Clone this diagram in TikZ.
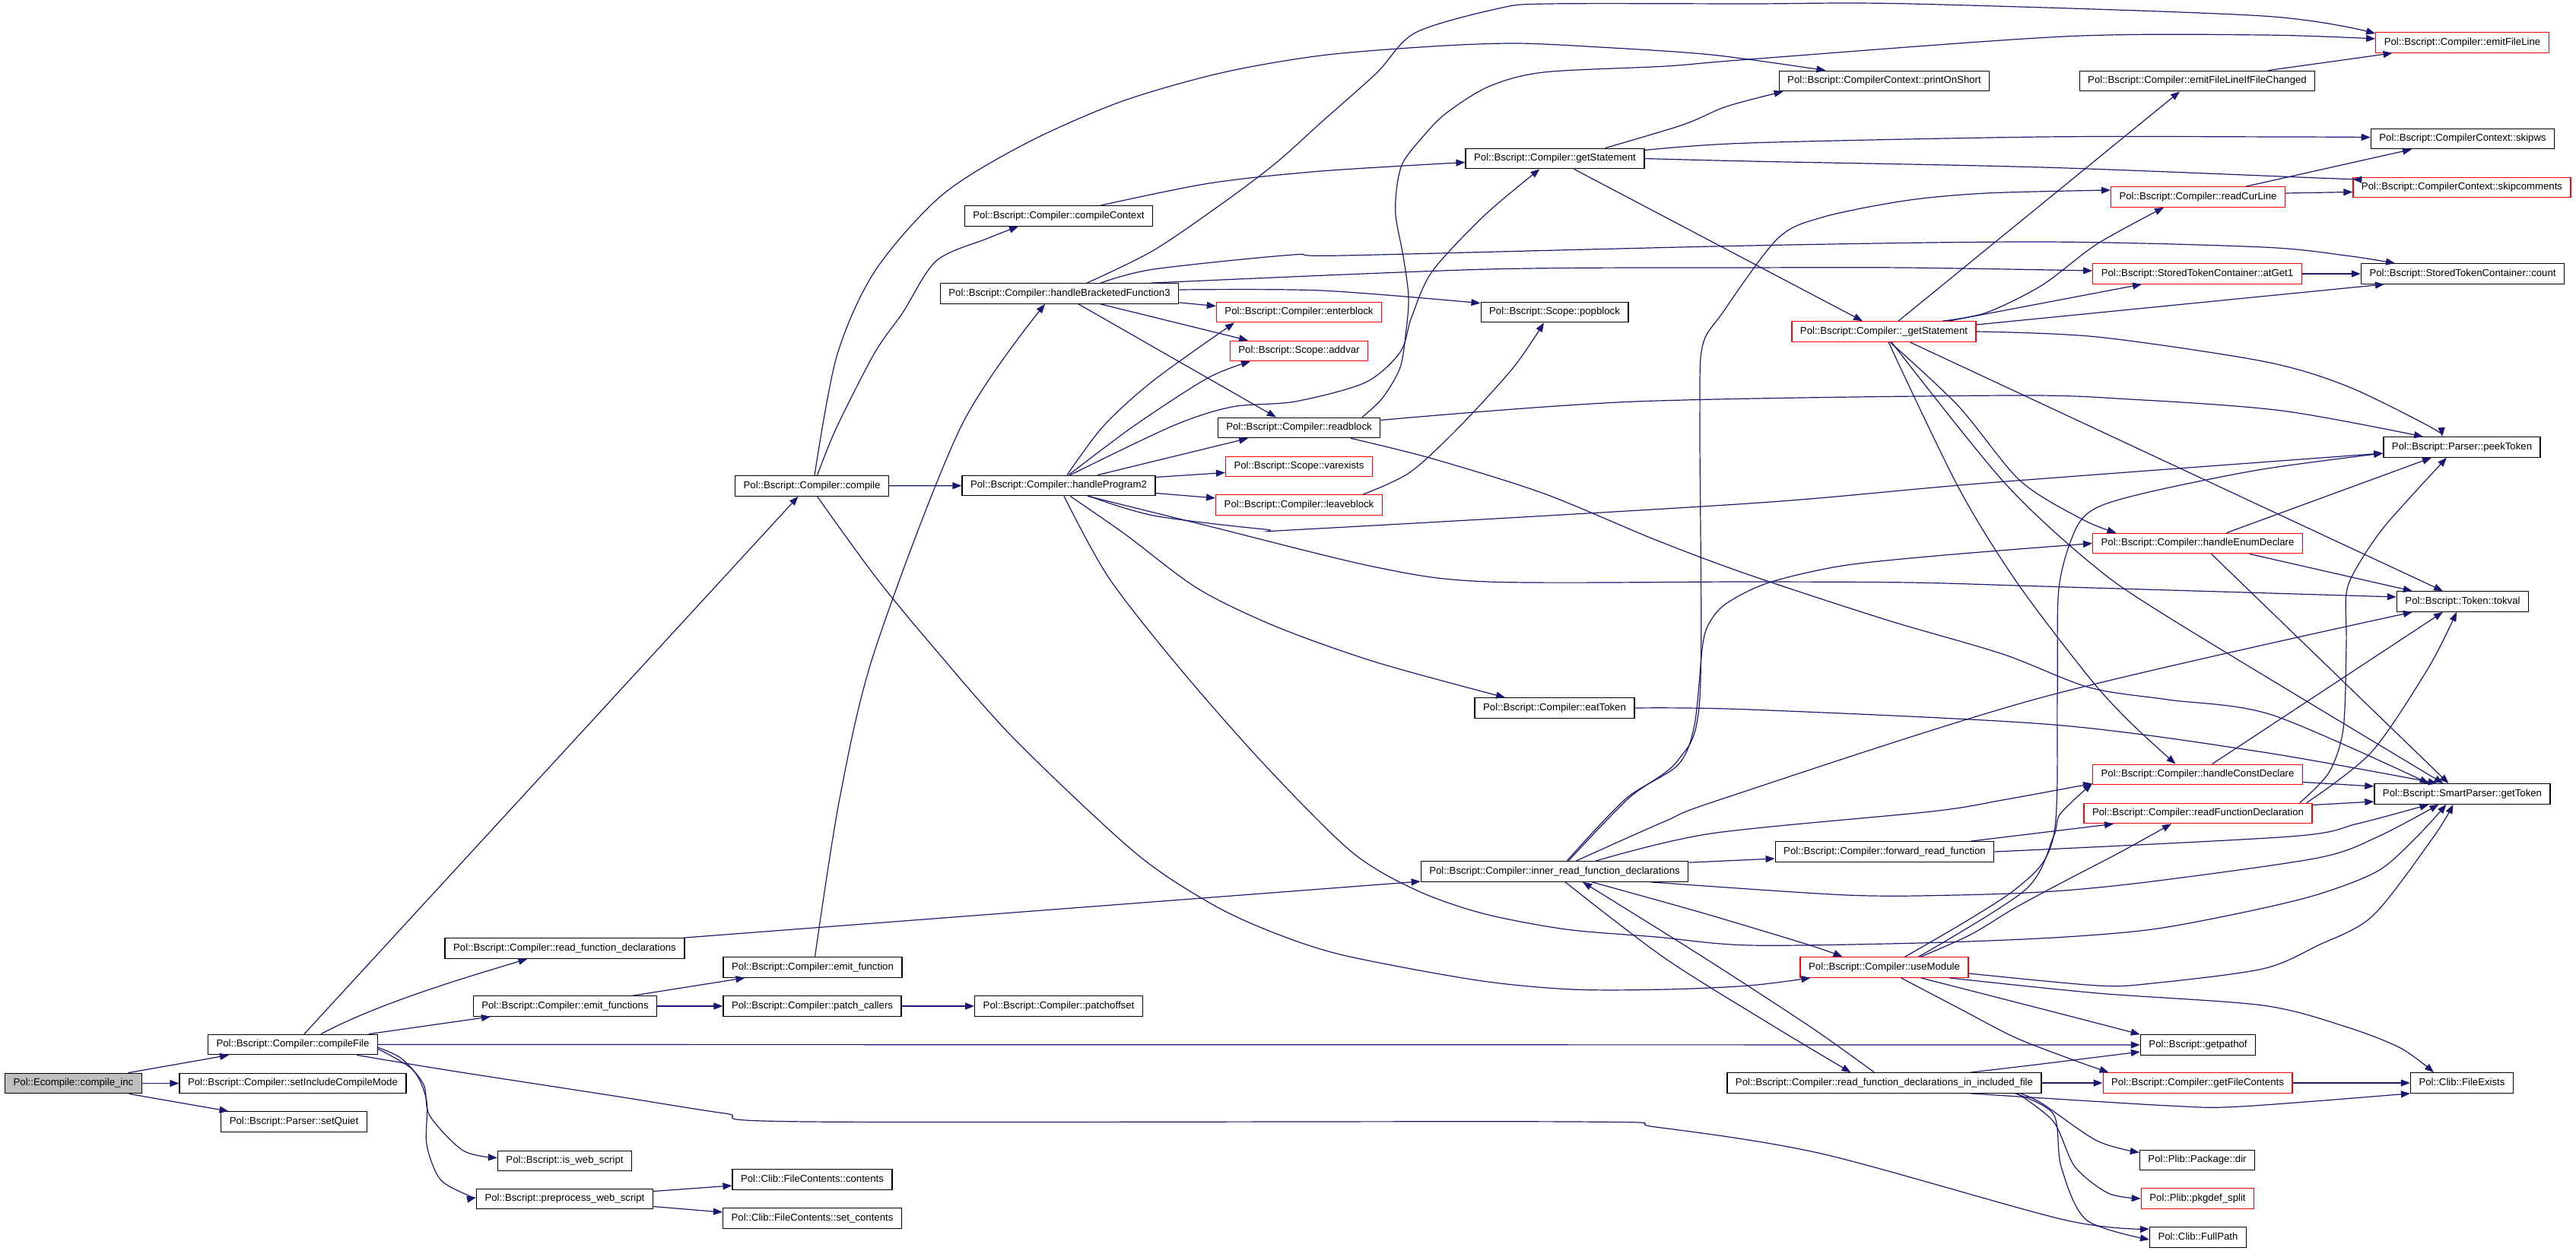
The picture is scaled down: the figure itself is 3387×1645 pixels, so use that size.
\documentclass[tikz,border=0pt]{standalone}
\usepackage{fontspec}
\usepackage{tikz}
\usetikzlibrary{arrows.meta}
\newfontfamily\dxfont{Liberation Sans}
\definecolor{dxblue}{HTML}{191970}
\definecolor{dxgray}{HTML}{BFBFBF}

\begin{document}
\begin{tikzpicture}[x=1pt, y=-1pt,
  fnbox/.style={draw=black, line width=1.3pt, fill=white, inner xsep=11pt, inner ysep=7pt,
    text height=9.6pt, text depth=2.8pt, font=\dxfont\fontsize{13.2pt}{15pt}\selectfont},
  fnred/.style={fnbox, draw=red},
  fnroot/.style={fnbox, fill=dxgray},
  callto/.style={draw=dxblue, line width=1.2pt, -{Triangle[length=12pt,width=9pt]}}]
\useasboundingbox (0,0) rectangle (3387,1645);

\node[fnroot] (ci) at (96.5,1424.5) {Pol::Ecompile::compile\_inc};
\node[fnbox] (cfile) at (385,1373.5) {Pol::Bscript::Compiler::compileFile};
\node[fnbox] (incmode) at (385,1424.5) {Pol::Bscript::Compiler::setIncludeCompileMode};
\node[fnbox] (quiet) at (386.5,1475) {Pol::Bscript::Parser::setQuiet};
\node[fnbox] (rfdecl) at (742.5,1247) {Pol::Bscript::Compiler::read\_function\_declarations};
\node[fnbox] (emitfns) at (743,1323) {Pol::Bscript::Compiler::emit\_functions};
\node[fnbox] (isweb) at (742.5,1526.5) {Pol::Bscript::is\_web\_script};
\node[fnbox] (prepweb) at (742.5,1576.5) {Pol::Bscript::preprocess\_web\_script};
\node[fnbox] (compile) at (1067.5,639) {Pol::Bscript::Compiler::compile};
\node[fnbox] (emitfn) at (1068.5,1272) {Pol::Bscript::Compiler::emit\_function};
\node[fnbox] (patchcallers) at (1068,1323) {Pol::Bscript::Compiler::patch\_callers};
\node[fnbox] (fccontents) at (1068,1551) {Pol::Clib::FileContents::contents};
\node[fnbox] (fcset) at (1068,1602) {Pol::Clib::FileContents::set\_contents};
\node[fnbox] (cctx) at (1392,284) {Pol::Bscript::Compiler::compileContext};
\node[fnbox] (hbf3) at (1393,386) {Pol::Bscript::Compiler::handleBracketedFunction3};
\node[fnbox] (hprog2) at (1392,638.5) {Pol::Bscript::Compiler::handleProgram2};
\node[fnbox] (patchoffset) at (1392,1323) {Pol::Bscript::Compiler::patchoffset};
\node[fnred] (enterblock) at (1708,410.5) {Pol::Bscript::Compiler::enterblock};
\node[fnred] (addvar) at (1708,461.5) {Pol::Bscript::Scope::addvar};
\node[fnbox] (readblock) at (1708,562.5) {Pol::Bscript::Compiler::readblock};
\node[fnred] (varexists) at (1708,613.5) {Pol::Bscript::Scope::varexists};
\node[fnred] (leaveblock) at (1708,664) {Pol::Bscript::Compiler::leaveblock};
\node[fnbox] (getstmt) at (2044.5,208.5) {Pol::Bscript::Compiler::getStatement};
\node[fnbox] (popblock) at (2044,410.5) {Pol::Bscript::Scope::popblock};
\node[fnbox] (eattoken) at (2044,931) {Pol::Bscript::Compiler::eatToken};
\node[fnbox] (innerread) at (2044,1146) {Pol::Bscript::Compiler::inner\_read\_function\_declarations};
\node[fnbox] (printonshort) at (2477.5,106.5) {Pol::Bscript::CompilerContext::printOnShort};
\node[fnred] (ugetstmt) at (2477,436) {Pol::Bscript::Compiler::\_getStatement};
\node[fnbox] (fwdread) at (2478,1120) {Pol::Bscript::Compiler::forward\_read\_function};
\node[fnred] (usemodule) at (2477.5,1272) {Pol::Bscript::Compiler::useModule};
\node[fnbox] (rfdincl) at (2477.5,1424) {Pol::Bscript::Compiler::read\_function\_declarations\_in\_included\_file};
\node[fnbox] (eflifc) at (2889,106.5) {Pol::Bscript::Compiler::emitFileLineIfFileChanged};
\node[fnred] (readcurline) at (2890,259) {Pol::Bscript::Compiler::readCurLine};
\node[fnred] (atget1) at (2889,360) {Pol::Bscript::StoredTokenContainer::atGet1};
\node[fnred] (henum) at (2889.5,714.5) {Pol::Bscript::Compiler::handleEnumDeclare};
\node[fnred] (hconst) at (2889.5,1018.5) {Pol::Bscript::Compiler::handleConstDeclare};
\node[fnred] (readfndecl) at (2890,1069.5) {Pol::Bscript::Compiler::readFunctionDeclaration};
\node[fnbox] (getpathof) at (2890,1374) {Pol::Bscript::getpathof};
\node[fnred] (getfc) at (2889.5,1424) {Pol::Bscript::Compiler::getFileContents};
\node[fnbox] (pkgdir) at (2889,1525.5) {Pol::Plib::Package::dir};
\node[fnred] (pkgsplit) at (2889.5,1576) {Pol::Plib::pkgdef\_split};
\node[fnbox] (fullpath) at (2890,1627) {Pol::Clib::FullPath};
\node[fnred] (emitfileline) at (3237.5,56) {Pol::Bscript::Compiler::emitFileLine};
\node[fnbox] (skipws) at (3238,182.5) {Pol::Bscript::CompilerContext::skipws};
\node[fnred] (skipcomm) at (3237,246.5) {Pol::Bscript::CompilerContext::skipcomments};
\node[fnbox] (count) at (3238,360) {Pol::Bscript::StoredTokenContainer::count};
\node[fnbox] (peektoken) at (3237,588) {Pol::Bscript::Parser::peekToken};
\node[fnbox] (tokval) at (3238,791) {Pol::Bscript::Token::tokval};
\node[fnbox] (gettoken) at (3237.5,1044) {Pol::Bscript::SmartParser::getToken};
\node[fnbox] (fileexists) at (3237,1424) {Pol::Clib::FileExists};

\draw[callto] ([xshift=72pt]ci.north) -- ([xshift=-84pt]cfile.south);
\draw[callto] (ci) -- (incmode);
\draw[callto] ([xshift=73pt]ci.south) -- ([xshift=-86pt]quiet.north);

\draw[callto] ([xshift=15pt]cfile.north) -- ([xshift=-18pt]compile.south);
\draw[callto] ([xshift=37pt]cfile.north) .. controls (500,1318) and (620,1283) .. ([xshift=-49pt]rfdecl.south);
\draw[callto] ([xshift=100pt]cfile.north) -- ([xshift=-98pt]emitfns.south);
\draw[callto] (cfile.east) -- (getpathof.west);
\draw[callto] plot[smooth] coordinates {([xshift=84pt]cfile.south) (587,1407) (807,1441) (953,1464) (1063,1475) (2067,1475) (2177,1482) (2395,1517) (2714,1604) ([yshift=11pt]fullpath.west)};
\draw[callto] plot[smooth] coordinates {([yshift=-4pt]cfile.east) (528,1392) (557,1426) (565,1467) (609,1513) ([yshift=4pt]isweb.west)};
\draw[callto] plot[smooth] coordinates {([yshift=-6pt]cfile.east) (543,1407) (561,1448) (561,1505) (579,1551) (616,1572) ([yshift=2pt]prepweb.west)};

\draw[callto] ([xshift=-2pt]rfdecl.north east) -- ([yshift=-13pt]innerread.west);
\draw[callto] ([xshift=89pt]emitfns.north) -- ([xshift=-89pt]emitfn.south);
\draw[callto] (emitfns) -- (patchcallers);
\draw[callto] plot[smooth] coordinates {([xshift=3pt]emitfn.north) (1104,1050) (1150,856) (1264,560) ([xshift=-19pt]hbf3.south)};
\draw[callto] (patchcallers) -- (patchoffset);
\draw[callto] ([yshift=10pt]prepweb.east) -- ([yshift=-8pt]fccontents.west);
\draw[callto] ([yshift=-10pt]prepweb.east) -- ([yshift=8pt]fcset.west);

\draw[callto] plot[smooth] coordinates {([xshift=3.5pt]compile.north) (1100,469) (1150,357) (1238,257) (1348,189) (1473,134) (1605,96) (1737,73) (1883,61) (1993,57) (2103,62) (2250,72) ([xshift=-77pt]printonshort.north)};
\draw[callto] plot[smooth] coordinates {([xshift=7pt]compile.north) (1100,562) (1150,464) (1187,411) (1231,343) (1297,314) ([xshift=-53pt]cctx.south)};
\draw[callto] (compile) -- (hprog2);
\draw[callto] plot[smooth] coordinates {([xshift=7pt]compile.south) (1150,757) (1223,846) (1333,971) (1491,1120) (1590,1187) (1671,1225) (1766,1256) (1942,1289) (2067,1301) (2191,1301) (2300,1296) ([xshift=14pt]usemodule.south west)};

\draw[callto] plot[smooth] coordinates {([xshift=55pt]cctx.north) (1590,241) (1737,225) ([yshift=-5pt]getstmt.west)};

\draw[callto] plot[smooth] coordinates {([xshift=36pt]hbf3.north) (1517,329) (1612,264) (1678,214) (1737,161) (1810,96) (1861,43) (1971,11) (2037,5) (2300,5) (2511,5) (2975,21) ([yshift=-2pt]emitfileline.north west)};
\draw[callto] plot[smooth] coordinates {([xshift=54pt]hbf3.north) (1517,354) (1700,335) (1766,336) (2300,323) (2685,318) (2975,325) (3084,336) ([xshift=-89pt]count.north)};
\draw[callto] plot[smooth] coordinates {([xshift=120pt]hbf3.north) (1957,354) (2300,352) (2504,352) ([yshift=4pt]atget1.west)};
\draw[callto] ([yshift=2pt]hbf3.south east) -- ([yshift=8pt]enterblock.west);
\draw[callto] ([xshift=54pt]hbf3.south) -- ([xshift=-67pt]addvar.north);
\draw[callto] ([xshift=25pt]hbf3.south) -- ([xshift=-30pt]readblock.north);
\draw[callto] plot[smooth] coordinates {([yshift=5pt]hbf3.east) (1737,382) ([yshift=-2pt]popblock.north west)};

\draw[callto] plot[smooth] coordinates {([xshift=11pt]hprog2.north) (1451,560) (1517,500) ([xshift=-85pt]enterblock.south)};
\draw[callto] plot[smooth] coordinates {([xshift=13pt]hprog2.north) (1491,560) (1588,497) ([xshift=-64pt]addvar.south)};
\draw[callto] plot[smooth] coordinates {([xshift=15pt]hprog2.north) (1542,560) (1620,535) (1703,528) (1795,503) (1841,463) (1856,417) (1883,357) (1952,283) ([xshift=-20pt]getstmt.south)};
\draw[callto] ([xshift=51pt]hprog2.north) -- ([xshift=-67pt]readblock.south);
\draw[callto] ([yshift=11pt]hprog2.east) -- ([yshift=-8pt]varexists.west);
\draw[callto] ([yshift=-10pt]hprog2.east) -- ([yshift=9pt]leaveblock.west);
\draw[callto] plot[smooth] coordinates {([xshift=40pt]hprog2.south) (1517,678) (1663,696) (1715,696) (2300,662) (2613,635) ([yshift=-8pt]peektoken.west)};
\draw[callto] plot[smooth] coordinates {([xshift=38pt]hprog2.south) (1590,692) (1810,746) (1957,765) (2300,765) (2511,766) (2685,771) ([yshift=6pt]tokval.west)};
\draw[callto] plot[smooth] coordinates {([xshift=15pt]hprog2.south) (1480,703) (1575,774) (1678,824) (1810,871) ([xshift=-65pt]eattoken.north)};
\draw[callto] plot[smooth] coordinates {([xshift=7pt]hprog2.south) (1458,760) (1553,881) (1663,1006) (1777,1120) (1861,1170) (1949,1201) (2059,1222) (2177,1232) (2300,1243) (2524,1240) (2700,1233) (2830,1222) (2953,1199) (3048,1176) (3127,1145) (3178,1100) ([xshift=-21pt]gettoken.south)};

\draw[callto] plot[smooth] coordinates {([xshift=83pt]readblock.north) (1818,523) (1841,483) (1849,433) (1852,390) (1845,337) (1835,283) (1837,243) (1845,213) (1868,183) (1900,150) (1957,114) (2030,95) (2191,87) (2300,78) (2714,48) (2975,46) ([yshift=5pt]emitfileline.west)};
\draw[callto] plot[smooth] coordinates {([yshift=10pt]readblock.east) (2150,528) (2641,520) (2800,525) (3000,540) ([xshift=-51pt]peektoken.north)};
\draw[callto] plot[smooth] coordinates {([xshift=68pt]readblock.south) (1883,603) (2030,649) (2177,710) (2300,756) (2480,815) (2633,860) (2747,904) (2850,920) (2987,940) ([xshift=-44pt]gettoken.north)};
\draw[callto] plot[smooth] coordinates {([xshift=84pt]leaveblock.north) (1854,621) (1920,560) (1990,483) ([xshift=-14pt]popblock.south)};

\draw[callto] plot[smooth] coordinates {([xshift=66pt]getstmt.north) (2213,164) (2270,140) ([xshift=6pt]printonshort.south west)};
\draw[callto] plot[smooth] coordinates {([yshift=11pt]getstmt.east) (2300,188) (2685,180) (3004,180) ([yshift=2pt]skipws.west)};
\draw[callto] plot[smooth] coordinates {(getstmt.east) (2300,212) (2685,220) (3048,234) ([yshift=-3pt]skipcomm.north west)};
\draw[callto] ([xshift=25pt]getstmt.south) -- ([xshift=-28pt]ugetstmt.north);
\draw[callto] plot[smooth] coordinates {(eattoken.east) (2300,933) (2700,953) (2975,989) ([xshift=-33pt]gettoken.north)};

\draw[callto] ([xshift=19pt]ugetstmt.north) -- ([xshift=-23pt]eflifc.south);
\draw[callto] plot[smooth] coordinates {([xshift=77pt]ugetstmt.north) (2612,411) (2685,375) (2757,321) ([xshift=-45pt]readcurline.south)};
\draw[callto] ([xshift=85pt]ugetstmt.north) -- ([xshift=-73pt]atget1.south);
\draw[callto] ([yshift=9pt]ugetstmt.east) -- ([xshift=-103pt]count.south);
\draw[callto] plot[smooth] coordinates {(ugetstmt.east) (2757,443) (2975,475) (3084,507) (3193,560) ([xshift=-26pt]peektoken.north)};
\draw[callto] ([xshift=34pt]ugetstmt.south) -- ([xshift=-26pt]tokval.north);
\draw[callto] plot[smooth] coordinates {([xshift=8pt]ugetstmt.south) (2575,534) (2656,632) (2738,683) ([xshift=-107pt]henum.north)};
\draw[callto] plot[smooth] coordinates {([xshift=10pt]ugetstmt.south) (2633,632) (2747,739) (2850,811) ([xshift=-25pt]gettoken.north)};
\draw[callto] plot[smooth] coordinates {([xshift=6pt]ugetstmt.south) (2575,641) (2652,766) (2747,891) (2800,949) ([xshift=-29pt]hconst.north)};

\draw[callto] plot[smooth] coordinates {([xshift=18pt]innerread.north) (2141,1050) (2206,1000) (2235,917) (2235,560) (2238,457) (2265,411) (2337,314) (2395,286) (2504,264) (2612,254) ([yshift=9pt]readcurline.west)};
\draw[callto] plot[smooth] coordinates {([xshift=16pt]innerread.north) (2138,1050) (2206,1006) (2228,953) (2239,846) (2250,815) (2272,792) (2326,766) (2422,744) (2556,730) (henum.west)};
\draw[callto] plot[smooth] coordinates {([xshift=28pt]innerread.north) (2189,1080) (2266,1050) (2685,917) ([xshift=21pt]tokval.south west)};
\draw[callto] plot[smooth] coordinates {([xshift=54pt]innerread.north) (2250,1096) (2540,1067) (2633,1052) ([yshift=2pt]hconst.south west)};
\draw[callto] ([yshift=-2pt]innerread.north east) -- ([yshift=-9pt]fwdread.west);
\draw[callto] plot[smooth] coordinates {([xshift=126pt]innerread.south) (2428,1177) (2572,1177) (2700,1172) (2830,1159) (3048,1128) (3127,1100) ([xshift=-31pt]gettoken.south)};
\draw[callto] plot[smooth] coordinates {([xshift=49pt]innerread.south) (2237,1200) (2380,1243) ([xshift=-55pt]usemodule.north)};
\draw[callto] plot[smooth] coordinates {([xshift=14pt]innerread.south) (2189,1260) (2333,1350) ([xshift=-44pt]rfdincl.north)};
\draw[callto] plot[smooth] coordinates {([xshift=-13pt]rfdincl.north) (2380,1350) (2237,1257) ([xshift=37pt]innerread.south)};

\draw[callto] ([xshift=113pt]fwdread.north) -- ([xshift=-111pt]readfndecl.south);
\draw[callto] plot[smooth] coordinates {(fwdread.east) (3011,1100) (3100,1083) ([xshift=-44pt]gettoken.south)};

\draw[callto] plot[smooth] coordinates {([xshift=27pt]usemodule.north) (2649,1170) (2700,1100) (2705,917) (2707,774) (2729,696) (2758,667) (2830,646) (2975,617) ([yshift=-8pt]peektoken.west)};
\draw[callto] plot[smooth] coordinates {([xshift=45pt]usemodule.north) (2663,1170) (2700,1100) (2709,1070) ([yshift=2pt]hconst.south west)};
\draw[callto] plot[smooth] coordinates {([xshift=48pt]usemodule.north) (2591,1229) (2649,1194) (2714,1159) (2787,1121) ([xshift=-35pt]readfndecl.south)};
\draw[callto] plot[smooth] coordinates {([yshift=-8pt]usemodule.east) (2758,1296) (2830,1293) (2975,1274) (3048,1243) (3120,1204) (3200,1100) ([xshift=-12pt]gettoken.south)};
\draw[callto] plot[smooth] coordinates {([xshift=85pt]usemodule.south) (2758,1306) (2975,1322) (3084,1350) (3156,1378) ([xshift=-37pt]fileexists.north)};
\draw[callto] plot[smooth] coordinates {([xshift=48pt]usemodule.south) (2612,1308) (2721,1336) (getpathof.north west)};
\draw[callto] plot[smooth] coordinates {([xshift=22pt]usemodule.south) (2576,1326) (2649,1364) (2721,1392) ([xshift=-117pt]getfc.north)};

\draw[callto] plot[smooth] coordinates {([xshift=113pt]rfdincl.north) (2685,1399) ([yshift=-9pt]getpathof.west)};
\draw[callto] (rfdincl) -- (getfc);
\draw[callto] plot[smooth] coordinates {([xshift=113pt]rfdincl.south) (2852,1454) (2946,1455) (fileexists.south west)};
\draw[callto] plot[smooth] coordinates {([xshift=179pt]rfdincl.south) (2685,1451) (2757,1500) ([yshift=10pt]pkgdir.west)};
\draw[callto] plot[smooth] coordinates {([xshift=175pt]rfdincl.south) (2700,1475) (2728,1534) (2772,1569) (pkgsplit.west)};
\draw[callto] plot[smooth] coordinates {([xshift=172pt]rfdincl.south) (2700,1465) (2710,1534) (2743,1604) ([yshift=-3pt]fullpath.west)};
\draw[callto] (getfc) -- (fileexists);

\draw[callto] ([xshift=38pt]henum.north) -- ([xshift=-40pt]peektoken.south);
\draw[callto] ([xshift=68pt]henum.south) -- ([xshift=21pt]tokval.north west);
\draw[callto] ([xshift=18pt]henum.south) -- ([xshift=-18pt]gettoken.north);
\draw[callto] ([xshift=19pt]hconst.north) -- ([xshift=-26pt]tokval.south);
\draw[callto] ([yshift=-10pt]hconst.east) -- ([yshift=10pt]gettoken.west);
\draw[callto] ([yshift=11pt]readfndecl.east) -- ([yshift=-10pt]gettoken.west);
\draw[callto] plot[smooth] coordinates {([xshift=-17pt]readfndecl.north east) (3062,1016) (3081,958) (3085,846) (3085,780) (3100,744) (3137,690) ([xshift=-20pt]peektoken.south)};
\draw[callto] plot[smooth] coordinates {([xshift=-8pt]readfndecl.north east) (3118,989) (3193,878) ([xshift=-8pt]tokval.south)};

\draw[callto] ([xshift=63pt]readcurline.north) -- ([xshift=-67pt]skipws.south);
\draw[callto] ([yshift=5pt]readcurline.east) -- ([yshift=-6pt]skipcomm.west);
\draw[callto] (atget1) -- (count);
\draw[callto] ([xshift=93pt]eflifc.north) -- ([xshift=-92pt]emitfileline.south);
\end{tikzpicture}
\end{document}
